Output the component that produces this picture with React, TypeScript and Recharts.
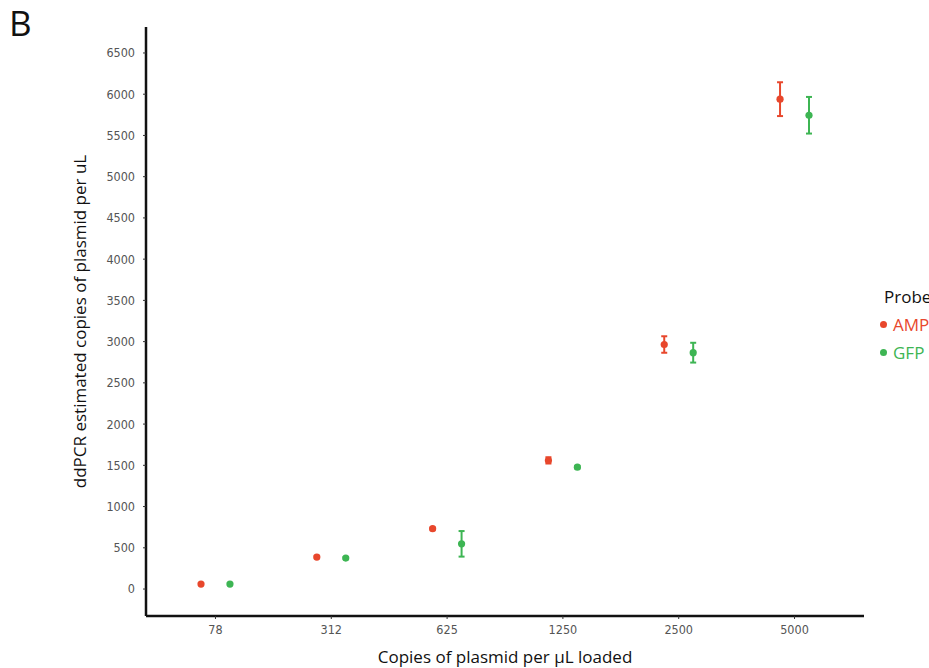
import React from "react";
import {
  ScatterChart,
  Scatter,
  XAxis,
  YAxis,
  ErrorBar,
  Label,
} from "recharts";

const CATEGORIES = ["78", "312", "625", "1250", "2500", "5000"];
const AMP_VALUES = [60, 388, 732, 1560, 2965, 5940];
const AMP_ERRORS = [12, 15, 12, 38, 100, 205];
const GFP_VALUES = [60, 375, 548, 1478, 2866, 5745];
const GFP_ERRORS = [12, 12, 155, 15, 120, 222];
const Y_TICKS = [0, 500, 1000, 1500, 2000, 2500, 3000, 3500, 4000, 4500, 5000, 5500, 6000, 6500];

const SERIES = [
  { name: "AMP", color: "#E8472C", values: AMP_VALUES, errors: AMP_ERRORS, dodge: -0.125 },
  { name: "GFP", color: "#3DB553", values: GFP_VALUES, errors: GFP_ERRORS, dodge: 0.125 },
];

const TICK_FONT = "'Liberation Sans Narrow', 'DejaVu Sans Condensed', 'Roboto', sans-serif";
const LABEL_FONT = "'Open Sans', 'Noto Sans', sans-serif";

function dot(color: string) {
  return (props: any) => <circle cx={props.cx} cy={props.cy} r={3.6} fill={color} />;
}

export default function App() {
  const tables = SERIES.map((s) =>
    CATEGORIES.map((c, i) => ({
      x: i + 1 + s.dodge,
      y: s.values[i],
      err: s.errors[i],
      cat: c,
    })),
  );

  return (
    <div
      style={{
        position: "absolute",
        left: 0,
        top: 0,
        width: 929,
        height: 668,
        overflow: "hidden",
        background: "#fff",
      }}
    >
      <div
        style={{
          position: "absolute",
          left: 9,
          top: 1,
          fontFamily: LABEL_FONT,
          fontSize: 35,
          lineHeight: "44px",
          color: "#111",
        }}
      >
        B
      </div>
      <ScatterChart
        width={929}
        height={668}
        margin={{ top: 27, right: 65, bottom: 22, left: 86 }}
      >
        <XAxis
          type="number"
          dataKey="x"
          domain={[0.4, 6.6]}
          ticks={[1, 2, 3, 4, 5, 6]}
          tickFormatter={(v: number) => CATEGORIES[v - 1] ?? ""}
          height={30}
          axisLine={{ stroke: "#111", strokeWidth: 2.5 }}
          tickLine={{ stroke: "#333", strokeWidth: 1 }}
          tickSize={3}
          tickMargin={6}
          tick={{ fill: "#555", fontSize: 12.5, fontFamily: TICK_FONT }}
          allowDataOverflow
        >
          <Label
            value="Copies of plasmid per μL loaded"
            position="bottom"
            offset={5}
            style={{ fill: "#111", fontSize: 17, fontFamily: LABEL_FONT }}
          />
        </XAxis>
        <YAxis
          type="number"
          dataKey="y"
          domain={[-327, 6815]}
          ticks={Y_TICKS}
          width={60}
          axisLine={{ stroke: "#111", strokeWidth: 2.5 }}
          tickLine={{ stroke: "#333", strokeWidth: 1 }}
          tickSize={3}
          tickMargin={8}
          tick={{ fill: "#555", fontSize: 12.5, fontFamily: TICK_FONT }}
          allowDataOverflow
        >
          <Label
            value="ddPCR estimated copies of plasmid per uL"
            angle={-90}
            position="insideLeft"
            offset={-6}
            style={{ fill: "#111", fontSize: 17, fontFamily: LABEL_FONT, textAnchor: "middle" }}
          />
        </YAxis>
        {SERIES.map((s, k) => (
          <Scatter
            key={s.name}
            name={s.name}
            data={tables[k]}
            fill={s.color}
            shape={dot(s.color)}
            isAnimationActive={false}
          >
            <ErrorBar
              dataKey="err"
              direction="y"
              width={3}
              stroke={s.color}
              strokeWidth={2}
            />
          </Scatter>
        ))}
      </ScatterChart>
      <div
        style={{
          position: "absolute",
          left: 884,
          top: 283,
          fontFamily: LABEL_FONT,
          fontSize: 17,
          color: "#111",
          whiteSpace: "nowrap",
          lineHeight: "28px",
        }}
      >
        <div>Probe</div>
        {SERIES.map((s) => (
          <div key={s.name} style={{ color: s.color, position: "relative", marginLeft: -4 }}>
            <span
              style={{
                display: "inline-block",
                width: 7,
                height: 7,
                borderRadius: "50%",
                background: s.color,
                marginRight: 6,
                verticalAlign: "middle",
                position: "relative",
                top: -2,
              }}
            />
            {s.name}
          </div>
        ))}
      </div>
    </div>
  );
}
